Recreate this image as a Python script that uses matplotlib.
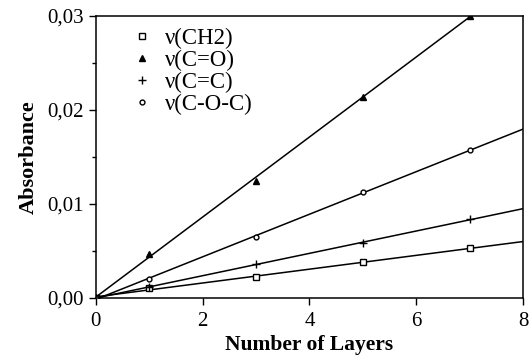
import matplotlib
matplotlib.use("Agg")
import matplotlib.pyplot as plt
import numpy as np
from matplotlib.ticker import FuncFormatter, MultipleLocator

layers = [0, 1, 3, 5, 7]
ch2 = [0.0, 0.0011, 0.0022, 0.0038, 0.0053]
c_o = [0.0, 0.0047, 0.0125, 0.0214, 0.0300]
c_c = [0.0, 0.0012, 0.0036, 0.0058, 0.0084]
coc = [0.0, 0.0020, 0.0065, 0.0113, 0.0157]

series = [
    ("ν(CH2)", ch2, dict(marker="s", mfc="white", ms=4.5)),
    ("ν(C=O)", c_o, dict(marker="^", mfc="black", ms=4.5)),
    ("ν(C=C)", c_c, dict(marker="+", ms=6)),
    ("ν(C-O-C)", coc, dict(marker="o", mfc="white", ms=3.5)),
]

plt.rcParams["font.family"] = ["Liberation Serif", "DejaVu Serif"]

fig = plt.figure(figsize=(5.29, 3.63), dpi=100)
ax = fig.add_axes([0.181, 0.179, 0.808, 0.777])

xfit = np.array([0, 8])
for label, ys, style in series:
    slope = np.polyfit(layers, ys, 1)
    ax.plot(xfit, np.polyval(slope, xfit), color="black", lw=1.1)
    ax.plot(layers, ys, ls="none", color="black", mec="black",
            mew=1.0, label=label, **style)

ax.set_xlim(0, 8)
ax.set_ylim(0, 0.03)
ax.xaxis.set_major_locator(MultipleLocator(2))
ax.yaxis.set_major_locator(MultipleLocator(0.01))
ax.yaxis.set_minor_locator(MultipleLocator(0.005))
ax.xaxis.set_minor_locator(MultipleLocator(1))
ax.yaxis.set_major_formatter(FuncFormatter(lambda v, p: f"{v:.2f}".replace(".", ",")))
ax.tick_params(which="both", direction="out", labelsize=15, width=1.0)
ax.tick_params(which="major", length=5)
ax.tick_params(which="minor", length=3)
ax.tick_params(axis="x", which="minor", length=0)
ax.tick_params(axis="x", pad=5)
for s in ax.spines.values():
    s.set_linewidth(1.1)

ax.set_xlabel("Number of Layers", fontsize=15.5, fontweight="bold", labelpad=3)
ax.set_ylabel("Absorbance", fontsize=16, fontweight="bold", labelpad=6)

ax.legend(loc="upper left", bbox_to_anchor=(0.05, 1.0), frameon=False,
          fontsize=16.5, handlelength=1.2, handletextpad=0.4,
          labelspacing=0.05, borderaxespad=0.1)

fig.savefig("out.png", dpi=100)
